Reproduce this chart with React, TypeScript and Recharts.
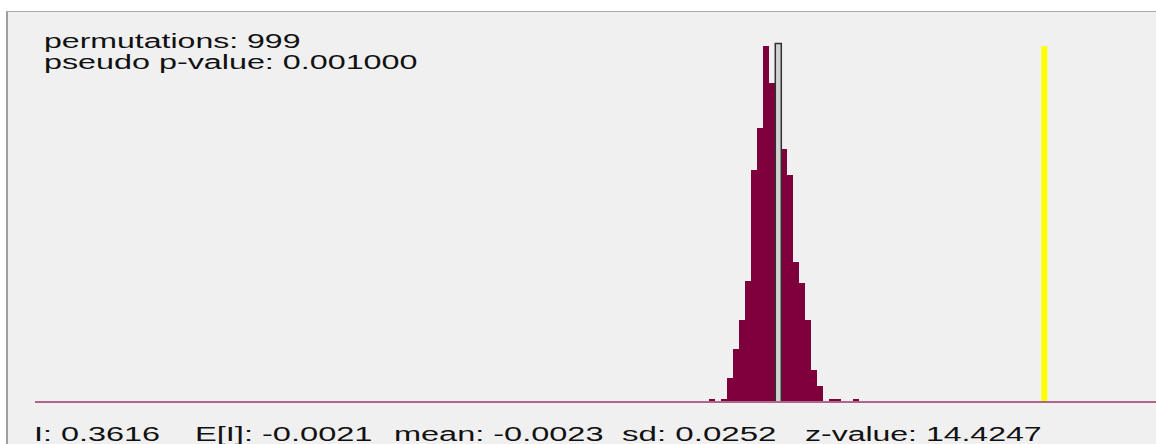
import React from 'react';
import { ComposedChart, Bar, XAxis, YAxis, ReferenceArea, ReferenceLine } from 'recharts';

// ---- data ----
const BIN_CENTERS = [
  -0.0923, -0.0841, -0.0759, -0.0677, -0.0595, -0.0513, -0.0431, -0.0349, -0.0267,
  -0.0185, -0.0103, -0.0021, 0.0061, 0.0143, 0.0225, 0.0307, 0.0389, 0.0471, 0.0553,
  0.0635, 0.0717, 0.0799, 0.0881, 0.0963, 0.1045,
];
const BIN_COUNTS = [
  1, 0, 1, 9, 20, 31, 46, 88, 104, 135, 121, 111, 96, 86, 53, 45, 31, 12, 6, 0, 1, 1, 0, 0, 1,
];
const BIN_WIDTH = 0.0082;
const PERMUTATIONS = 999;
const PSEUDO_P = 0.001;
const I_VALUE = 0.3616;
const E_I = -0.0021;
const MEAN = -0.0023;
const SD = 0.0252;
const Z_VALUE = 14.4247;

const TOP_LINES = [
  `permutations: ${PERMUTATIONS}`,
  `pseudo p-value: ${PSEUDO_P.toFixed(6)}`,
];
const BOTTOM_LABELS = [
  `I: ${I_VALUE.toFixed(4)}`,
  `E[I]: ${E_I.toFixed(4)}`,
  `mean: ${MEAN.toFixed(4)}`,
  `sd: ${SD.toFixed(4)}`,
  `z-value: ${Z_VALUE.toFixed(4)}`,
];

// ---- layout ----
const X_DOMAIN: [number, number] = [-1.01837, 0.51431];
const MAX_COUNT = Math.max(...BIN_COUNTS);
const Y_TOP = 136;
const TOP_X = 44;
const TOP_BASELINES = [48, 69];
const TOP_WIDTHS = [256.5, 373.5];
const BOTTOM_X = [34, 195, 394, 622, 805];
const BOTTOM_WIDTHS = [126, 177.5, 209.5, 154.5, 236.5];
const BOTTOM_BASELINE = 441;

const FONT = "'Liberation Sans', Arial, sans-serif";
const BAR_COLOR = '#7d003d';

const bins = BIN_CENTERS.map((x, i) => ({ x, count: BIN_COUNTS[i] }));

export default function App() {
  const extra: any = { zIndex: 800 };
  const lineExtra: any = { zIndex: 900 };
  return (
    <div
      style={{
        position: 'absolute',
        left: 0,
        top: 0,
        width: 1156,
        height: 444,
        background: '#ffffff',
        overflow: 'hidden',
      }}
    >
      <div
        style={{
          position: 'absolute',
          left: 6,
          top: 11,
          right: 0,
          bottom: 0,
          background: '#f0f0f0',
          borderLeft: '2px solid #a0a0a0',
          borderTop: '1px solid #a8a8a8',
        }}
      />
      <div style={{ position: 'absolute', left: 0, top: 0 }}>
        <ComposedChart
          width={1156}
          height={444}
          data={bins}
          margin={{ top: 43.5, right: 0, bottom: 42, left: 35 }}
        >
          <XAxis type="number" dataKey="x" domain={X_DOMAIN} allowDataOverflow hide />
          <YAxis hide domain={[0, Y_TOP]} allowDataOverflow />
          <Bar
            dataKey="count"
            fill={BAR_COLOR}
            stroke="none"
            barSize={6.5}
            shapeRendering="crispEdges"
            isAnimationActive={false}
          />
          <ReferenceArea
            {...extra}
            x1={E_I - BIN_WIDTH / 2}
            x2={E_I + BIN_WIDTH / 2}
            y1={0}
            y2={Y_TOP}
            fill="#d2d2d2"
            fillOpacity={1}
            stroke="#303030"
            strokeWidth={1.5}
            ifOverflow="visible"
          />
          <ReferenceArea
            {...extra}
            x1={I_VALUE - BIN_WIDTH / 2}
            x2={I_VALUE + BIN_WIDTH / 2}
            y1={0}
            y2={MAX_COUNT}
            fill="#ffff00"
            fillOpacity={1}
            stroke="none"
            ifOverflow="visible"
          />
          <ReferenceLine
            {...lineExtra}
            y={0}
            stroke="#b0668c"
            strokeWidth={2}
            ifOverflow="visible"
          />
        </ComposedChart>
      </div>
      <svg
        width={1156}
        height={444}
        style={{ position: 'absolute', left: 0, top: 0, pointerEvents: 'none' }}
      >
        {TOP_LINES.map((t, i) => (
          <text
            key={t}
            x={TOP_X}
            y={TOP_BASELINES[i]}
            fontFamily={FONT}
            fontSize={19.5}
            fill="#111111"
            textLength={TOP_WIDTHS[i]}
            lengthAdjust="spacingAndGlyphs"
          >
            {t}
          </text>
        ))}
        {BOTTOM_LABELS.map((t, i) => (
          <text
            key={t}
            x={BOTTOM_X[i]}
            y={BOTTOM_BASELINE}
            fontFamily={FONT}
            fontSize={19.5}
            fill="#111111"
            textLength={BOTTOM_WIDTHS[i]}
            lengthAdjust="spacingAndGlyphs"
          >
            {t}
          </text>
        ))}
      </svg>
    </div>
  );
}
